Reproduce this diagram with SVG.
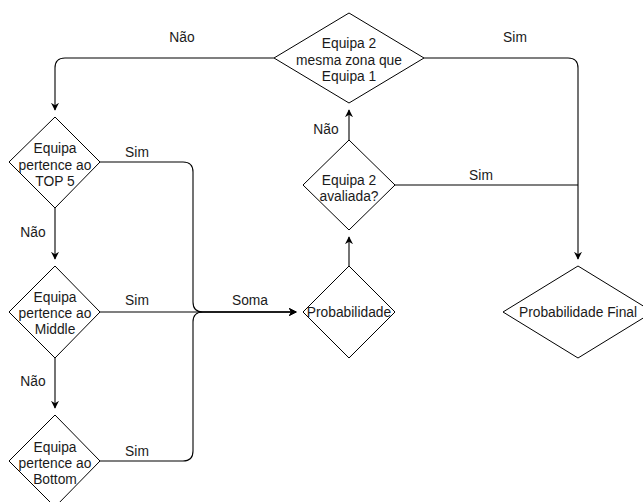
<svg xmlns="http://www.w3.org/2000/svg" width="643" height="502" viewBox="0 0 643 502">
<defs>
<marker id="arr" viewBox="0 0 10 10" refX="9" refY="5" markerWidth="8" markerHeight="8" orient="auto" markerUnits="userSpaceOnUse">
<path d="M0,0 L10,5 L0,10 L3,5 Z" fill="#000"/>
</marker>
<style>
.node{fill:#fff;stroke:#000;stroke-width:1}
.t{font-family:"Liberation Sans",Arial,sans-serif;font-size:13.8px;fill:#1a1a1a;text-anchor:middle}
.e{fill:none;stroke:#000;stroke-width:1.1}
</style>
</defs>
<rect width="643" height="502" fill="#fff"/>
<g id="connectors">
<path class="e" d="M274,58 H65 Q55,58 55,68 V110" marker-end="url(#arr)"/>
<path class="e" d="M424,58 H568 Q578,58 578,68 V259" marker-end="url(#arr)"/>
<path class="e" d="M395,185 H578"/>
<path class="e" d="M349,140 V110" marker-end="url(#arr)"/>
<path class="e" d="M349,266 V237" marker-end="url(#arr)"/>
<path class="e" d="M55,208 V259" marker-end="url(#arr)"/>
<path class="e" d="M55,358 V408" marker-end="url(#arr)"/>
<path class="e" d="M100,162 H183 Q193,162 193,172 V302 Q193,312 203,312 H296" marker-end="url(#arr)"/>
<path class="e" d="M100,312 H296" marker-end="url(#arr)"/>
<path class="e" d="M100,461 H183 Q193,461 193,451 V322 Q193,312 203,312 H296" marker-end="url(#arr)"/>
<text class="t" x="182" y="42">Não</text>
<text class="t" x="515" y="42">Sim</text>
<text class="t" x="326" y="134">Não</text>
<text class="t" x="481" y="180">Sim</text>
<text class="t" x="137" y="157">Sim</text>
<text class="t" x="33" y="237">Não</text>
<text class="t" x="137" y="305">Sim</text>
<text class="t" x="250" y="305">Soma</text>
<text class="t" x="33" y="386">Não</text>
<text class="t" x="137" y="456">Sim</text>
</g>
<g id="n-zona">
<path class="node" d="M349,13 L424,58 L349,103 L274,58 Z"/>
<text class="t" x="349" y="48">Equipa 2</text>
<text class="t" x="349" y="65">mesma zona que</text>
<text class="t" x="349" y="81">Equipa 1</text>
</g>
<g id="n-top5">
<path class="node" d="M55,117 L100,162 L55,208 L9,162 Z"/>
<text class="t" x="55" y="153">Equipa</text>
<text class="t" x="55" y="170">pertence ao</text>
<text class="t" x="55" y="186">TOP 5</text>
</g>
<g id="n-middle">
<path class="node" d="M55,266 L100,312 L55,358 L9,312 Z"/>
<text class="t" x="55" y="302">Equipa</text>
<text class="t" x="55" y="318">pertence ao</text>
<text class="t" x="55" y="334">Middle</text>
</g>
<g id="n-bottom">
<path class="node" d="M55,415 L100,461 L55,507 L9,461 Z"/>
<text class="t" x="55" y="452">Equipa</text>
<text class="t" x="55" y="468">pertence ao</text>
<text class="t" x="55" y="484">Bottom</text>
</g>
<g id="n-prob">
<path class="node" d="M349,266 L395,312 L349,358 L303,312 Z"/>
<text class="t" x="349" y="317">Probabilidade</text>
</g>
<g id="n-avaliada">
<path class="node" d="M349,140 L395,185 L349,230 L303,185 Z"/>
<text class="t" x="349" y="185">Equipa 2</text>
<text class="t" x="349" y="201">avaliada?</text>
</g>
<g id="n-final">
<path class="node" d="M578,266 L653,312 L578,358 L503,312 Z"/>
<text class="t" x="578" y="317">Probabilidade Final</text>
</g>
</svg>
